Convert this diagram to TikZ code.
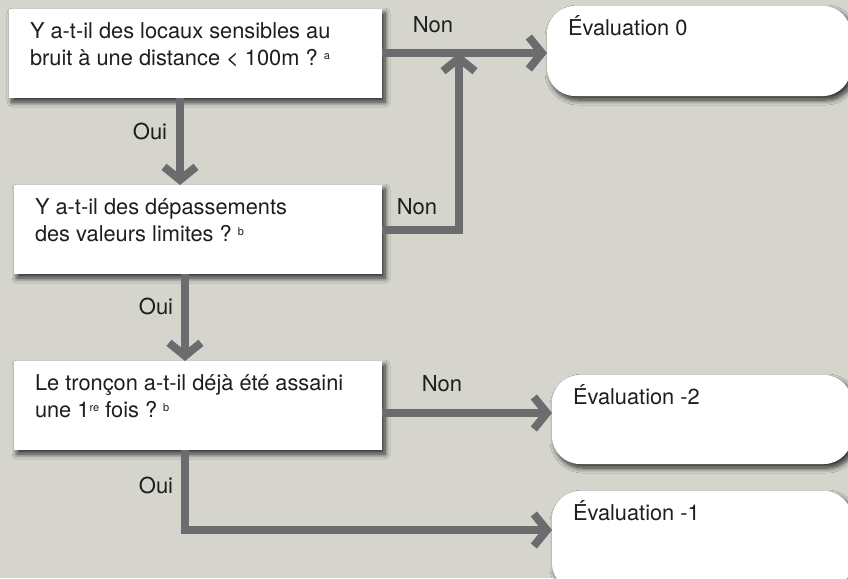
\documentclass[tikz,border=0pt]{standalone}
\usepackage{fontspec}
\setmainfont{TeX Gyre Heros}
\usetikzlibrary{arrows.meta,shadows.blur}
\definecolor{bg}{HTML}{D5D5CD}
\definecolor{flow}{HTML}{6C6C6E}
\definecolor{ink}{HTML}{1E1E1E}
% small raised footnote mark
\newcommand{\expo}[1]{\raisebox{6pt}{\fontsize{11}{11}\selectfont #1}}
% top-aligned box text: height, width, text
\newcommand{\boxtext}[3]{\parbox[t][#1][t]{#2}{\leftskip=21pt\rightskip=0pt plus 1fil
  \fontsize{21.8}{27}\selectfont\color{ink}\rule{0pt}{29.5pt}#3}}
\tikzset{
  boxbase/.style={fill=white, inner sep=0pt, outer sep=0pt, anchor=north west,
    blur shadow={shadow xshift=3pt, shadow yshift=-4pt, shadow blur radius=5pt,
      shadow blur steps=10, shadow opacity=80}},
  question/.style={boxbase},
  result/.style={boxbase, rounded corners=28pt},
  flowline/.style={draw=flow, line width=8pt, line join=miter,
    -{Straight Barb[length=13pt,width=32pt,line join=miter]}},
  lbl/.style={text=ink, font=\fontsize{22}{26}\selectfont, inner sep=0pt},
}
\begin{document}
\begin{tikzpicture}[x=1pt,y=-1pt]
  \fill[bg] (0,0) rectangle (848,578);
  \useasboundingbox (0,0) rectangle (848,578);

  % question boxes
  \node[question] (b1) at (9,9) {\boxtext{89pt}{373pt}{Y a-t-il des locaux sensibles au\\
    bruit à une distance < 100m ?\ \expo{a}}};
  \node[question] (b2) at (14,185) {\boxtext{89pt}{368pt}{Y a-t-il des dépassements\\
    des valeurs limites ?\ \expo{b}}};
  \node[question] (b3) at (14,361) {\boxtext{89pt}{368pt}{Le tronçon a-t-il déjà été assaini\\
    une 1\expo{re} fois ?\ \expo{b}}};

  % result boxes
  \node[result] (e0) at (547,6) {\boxtext{90pt}{304pt}{Évaluation 0}};
  \node[result] (em2) at (552,375) {\boxtext{89pt}{300pt}{Évaluation -2}};
  \node[result] (em1) at (552,491) {\boxtext{100pt}{300pt}{Évaluation -1}};

  % guide coordinates for the connector columns and rows
  \coordinate (c1) at (180,0);
  \coordinate (c2) at (185,0);
  \coordinate (cm) at (459,0);
  \coordinate (r1) at (0,53);
  \coordinate (r2) at (0,230);
  \coordinate (r3) at (0,413);
  \coordinate (r4) at (0,530);

  % connectors
  \draw[flowline] (b1.south -| c1) -- (b2.north -| c1);
  \draw[flowline] (b2.south -| c2) -- (b3.north -| c2);
  \draw[flowline] (b1.east |- r1) -- (e0.west |- r1);
  \draw[flowline] (b2.east |- r2) -| (cm |- r1);
  \draw[flowline] (b3.east |- r3) -- (em2.west |- r3);
  \draw[flowline] (b3.south -| c2) |- (em1.west |- r4);

  % branch labels
  \node[lbl] (oui1) at (150,131) {Oui};
  \node[lbl] (oui2) at (156,306) {Oui};
  \node[lbl] (oui3) at (156,485) {Oui};
  \node[lbl] (non1) at (433,25) {Non};
  \node[lbl] (non2) at (417,207) {Non};
  \node[lbl] (non3) at (442,384) {Non};
\end{tikzpicture}
\end{document}
